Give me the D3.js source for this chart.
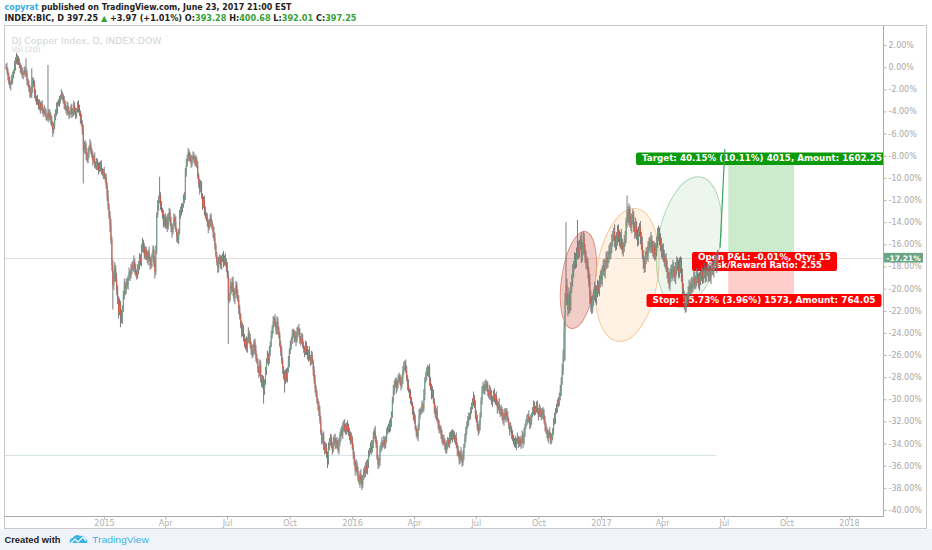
<!DOCTYPE html>
<html><head><meta charset="utf-8">
<script src="https://cdn.jsdelivr.net/npm/d3@7"></script>
<style>
html,body{margin:0;padding:0;background:#fff;}
svg{display:block;}
</style></head>
<body>
<svg id="c" width="932" height="550"></svg>
<script>
// ---- data (percent change vs first visible close) ----
const closes = [
0.0,-0.3,-0.8,-1.4,-1.6,-1.4,-1.1,-0.7,-0.4,0.1,0.6,0.9,0.7,0.4,0.2,-0.1,-0.5,-0.7,-0.5,-0.3,-0.6,
-0.5,-1.2,-1.6,-1.9,-2.3,-2.5,-1.9,-1.2,-1.6,-2.3,-2.8,-3.0,-3.2,-3.5,-3.3,-3.7,-3.4,-3.9,-4.1,-3.9,-4.2,
-4.4,-4.6,-4.1,-4.5,-4.3,-4.8,-5.2,-5.7,-5.2,-4.6,-4.1,-3.7,-3.3,-3.2,-3.0,-2.7,-2.5,-2.6,-3.0,-3.3,-3.7,
-3.9,-3.5,-4.1,-4.3,-4.1,-3.7,-4.2,-3.9,-3.5,-4.1,-4.3,-3.9,-3.4,-3.7,-4.1,-4.6,-5.1,-5.7,-7.5,-7.0,-7.3,
-8.0,-8.4,-7.7,-7.3,-7.0,-7.5,-8.0,-8.4,-8.2,-8.7,-9.0,-8.6,-8.8,-9.3,-9.1,-8.8,-9.3,-9.6,-9.5,-9.8,-10.0,
-10.7,-11.6,-12.5,-13.4,-14.3,-15.6,-17.9,-19.7,-18.8,-18.2,-19.1,-20.1,-21.0,-22.1,-21.5,-22.4,-22.7,-21.8,-20.6,-19.7,-20.0,
-19.5,-19.7,-19.1,-18.5,-18.8,-18.3,-17.9,-18.2,-17.6,-18.2,-18.5,-18.9,-18.3,-17.8,-17.2,-17.6,-16.5,-15.8,-16.3,-17.0,-16.5,
-17.0,-17.4,-16.7,-17.3,-17.9,-17.6,-17.0,-16.5,-17.6,-18.5,-16.5,-13.4,-12.5,-12.0,-11.6,-12.5,-12.9,-13.4,-14.0,-13.6,-14.3,
-13.8,-14.5,-13.4,-13.1,-14.0,-14.5,-14.9,-14.3,-13.6,-14.0,-14.7,-15.3,-15.6,-14.9,-13.4,-12.9,-12.7,-12.5,-12.0,-11.6,-9.5,
-8.8,-8.2,-7.7,-8.0,-8.4,-8.7,-8.2,-8.0,-8.2,-8.6,-8.4,-8.9,-9.8,-10.4,-11.1,-10.7,-11.6,-12.5,-12.0,-12.9,-13.4,
-13.6,-14.0,-14.5,-14.2,-13.6,-14.0,-14.5,-14.9,-15.4,-16.1,-17.0,-17.6,-18.1,-17.6,-17.2,-17.9,-17.4,-17.1,-17.6,-17.2,-17.6,
-18.1,-18.8,-21.0,-20.6,-19.7,-20.1,-19.4,-20.3,-20.9,-20.1,-19.7,-20.6,-21.0,-21.8,-22.4,-23.3,-23.9,-23.6,-24.5,-25.1,-24.7,
-25.4,-24.7,-24.0,-24.5,-25.1,-25.6,-26.0,-25.4,-24.8,-25.6,-26.3,-26.6,-27.2,-27.6,-26.9,-28.1,-28.7,-28.3,-29.2,-28.4,-27.4,
-26.6,-26.0,-26.5,-25.7,-25.1,-24.2,-23.6,-23.0,-22.7,-23.3,-23.8,-23.0,-23.6,-24.2,-25.1,-25.7,-26.5,-27.2,-27.8,-28.3,-27.6,
-28.1,-27.4,-26.6,-25.6,-25.1,-24.7,-24.2,-23.9,-24.5,-24.2,-24.7,-24.0,-23.6,-23.9,-24.5,-24.8,-24.5,-25.1,-25.4,-25.7,-25.1,
-25.6,-26.1,-25.7,-26.3,-26.6,-26.0,-26.6,-27.4,-28.3,-29.0,-29.6,-30.1,-30.5,-31.1,-31.9,-33.0,-33.7,-33.3,-34.1,-34.6,-34.4,
-35.0,-35.5,-34.4,-33.7,-33.5,-34.1,-34.6,-33.9,-33.5,-34.0,-33.7,-34.2,-34.6,-33.9,-33.3,-32.8,-33.2,-32.6,-32.2,-32.8,-32.4,
-32.8,-32.4,-33.0,-33.2,-33.7,-33.5,-34.4,-35.0,-35.7,-36.4,-35.9,-36.5,-37.1,-37.5,-36.8,-37.3,-37.7,-37.1,-36.4,-36.7,-36.0,
-36.4,-35.7,-35.0,-34.6,-34.2,-34.6,-33.9,-33.3,-32.9,-33.5,-34.1,-35.3,-35.9,-35.5,-34.6,-34.2,-33.9,-34.1,-33.7,-34.1,-33.5,
-32.9,-32.8,-32.4,-32.6,-32.0,-31.5,-30.1,-29.2,-28.7,-28.3,-29.0,-28.6,-28.3,-27.9,-28.4,-28.8,-28.1,-27.5,-27.0,-26.8,-27.4,
-28.1,-28.7,-29.2,-29.5,-30.1,-30.4,-31.0,-31.4,-31.9,-32.6,-33.0,-33.3,-32.6,-31.4,-31.0,-31.1,-30.5,-30.8,-29.6,-28.3,-27.9,
-27.4,-27.7,-27.2,-28.3,-29.0,-29.6,-29.3,-30.2,-30.9,-31.4,-31.1,-31.9,-32.3,-32.8,-32.6,-33.2,-33.5,-33.9,-33.7,-34.2,-34.6,
-34.1,-33.7,-34.1,-33.5,-33.2,-33.5,-33.0,-33.3,-33.7,-33.5,-34.1,-34.6,-35.0,-35.5,-34.8,-35.3,-35.7,-35.0,-34.2,-33.5,-32.8,
-32.3,-31.9,-31.7,-31.4,-31.0,-30.7,-30.2,-29.8,-30.5,-31.3,-31.9,-32.5,-32.9,-32.3,-31.4,-30.1,-29.3,-28.8,-29.2,-28.6,-29.0,
-28.7,-29.3,-29.7,-29.2,-29.6,-30.3,-29.9,-29.5,-30.1,-29.7,-30.3,-30.8,-30.4,-30.9,-31.3,-30.9,-31.5,-31.9,-31.3,-31.7,-31.1,
-31.5,-31.9,-32.4,-32.8,-32.6,-33.2,-33.5,-33.9,-33.7,-34.1,-33.8,-33.5,-34.0,-33.7,-34.1,-33.7,-33.3,-33.9,-33.0,-32.4,-32.1,
-31.8,-31.5,-31.9,-32.3,-31.8,-31.4,-31.0,-30.6,-31.2,-30.8,-30.5,-31.0,-31.4,-30.9,-31.2,-31.6,-31.0,-31.4,-31.9,-32.4,-32.8,
-33.1,-33.5,-33.0,-33.3,-33.7,-33.5,-32.8,-32.0,-31.7,-31.1,-30.8,-30.2,-30.4,-29.7,-29.2,-28.4,-27.4,-26.0,-23.8,-21.0,-19.7,
-21.0,-21.9,-20.6,-21.5,-20.0,-19.2,-18.5,-17.9,-17.3,-17.6,-17.0,-16.3,-16.7,-16.1,-15.6,-17.1,-16.3,-15.4,-16.5,-17.2,-17.6,
-17.9,-18.5,-19.4,-20.7,-21.3,-21.8,-21.0,-20.6,-20.1,-20.9,-20.3,-19.7,-20.1,-19.4,-18.9,-19.2,-18.3,-17.9,-18.5,-17.8,-17.2,
-17.7,-17.1,-16.6,-16.9,-16.2,-15.7,-15.3,-14.9,-15.7,-16.1,-15.5,-14.7,-15.3,-15.8,-15.3,-16.0,-16.5,-16.2,-15.8,-15.3,-14.0,
-13.1,-13.7,-12.9,-14.0,-14.4,-13.7,-13.4,-14.5,-14.9,-14.3,-15.2,-15.6,-14.9,-14.5,-15.4,-16.0,-16.9,-17.6,-18.1,-17.2,-16.7,
-17.0,-16.3,-15.8,-16.2,-15.6,-16.3,-16.7,-16.2,-17.0,-16.5,-15.8,-15.3,-14.9,-15.5,-16.1,-16.8,-16.4,-17.1,-17.6,-17.3,-18.0,
-18.5,-19.0,-19.6,-18.9,-18.3,-18.7,-18.0,-18.5,-19.0,-18.3,-17.6,-18.0,-18.5,-18.2,-17.6,-18.8,-20.0,-20.6,-21.2,-21.6,-20.9,
-21.0,-20.3,-19.8,-20.1,-19.6,-19.9,-19.4,-19.0,-19.6,-19.2,-18.7,-19.0,-19.6,-19.2,-18.9,-18.5,-19.0,-18.7,-18.3,-18.9,-18.5,
-18.2,-18.8,-18.4,-19.0,-18.2,-18.0,-18.4,-17.8,-17.6,-17.2,-18.0,-17.21
];
// upper / lower wick beyond the body, in tenths of a percent
const wickUp = [
3,4,2,3,5,2,4,3,2,5,3,4,2,3,4,2,3,5,2,3,4,
13,3,2,4,3,5,18,3,2,4,3,2,5,3,4,2,3,4,2,5,3,
4,2,43,3,5,2,4,3,2,4,3,5,2,3,4,2,5,3,2,4,3,
2,4,3,5,2,3,4,2,5,3,4,2,3,4,3,2,4,3,5,3,4,
5,3,4,2,5,3,2,4,3,5,2,4,3,2,5,3,4,2,3,5,2,
4,3,5,2,4,6,3,5,4,6,3,5,4,3,6,4,5,3,4,6,3,
4,5,3,4,2,5,3,4,6,3,4,2,5,3,4,3,5,4,2,4,3,
3,4,2,5,3,4,2,4,3,5,4,3,5,4,17,3,4,2,5,3,4,
3,5,2,4,3,5,3,2,4,3,5,2,4,3,5,3,4,2,5,3,4,
5,3,4,2,3,5,2,4,3,2,5,3,4,2,3,5,4,2,3,4,3,
3,4,2,5,3,4,2,3,5,4,2,3,4,5,3,2,4,3,5,2,4,
3,5,4,2,6,3,4,5,3,2,4,3,5,4,3,2,4,5,3,4,2,
4,3,5,2,4,3,5,4,2,3,5,4,3,2,5,4,3,5,4,2,3,
3,4,2,5,3,4,3,5,2,4,3,5,4,2,3,4,5,3,2,4,3,
4,3,5,2,4,3,5,3,2,4,3,5,2,4,3,2,5,4,3,2,4,
3,4,2,5,3,4,3,2,4,5,3,4,2,3,5,4,3,2,4,3,5,
4,3,5,2,4,3,2,5,3,4,2,3,5,4,3,2,4,5,3,4,2,
3,5,2,4,3,5,2,4,3,2,5,3,4,2,3,5,4,3,2,4,3,
5,3,4,2,3,5,2,4,3,5,2,4,3,2,4,3,5,2,4,3,2,
3,4,2,5,3,4,3,5,4,2,3,4,5,3,2,4,3,5,4,3,4,
4,3,5,2,4,3,2,4,3,5,2,3,4,5,2,3,4,2,5,3,4,
3,5,2,4,3,4,5,2,3,4,3,5,2,4,3,2,4,3,5,2,3,
4,3,2,5,3,4,3,2,4,3,5,2,4,3,2,5,3,4,2,4,3,
3,4,5,2,3,4,3,5,2,4,3,5,3,4,2,3,5,4,2,3,4,
4,3,2,5,3,4,2,3,5,2,4,3,2,5,3,4,2,3,4,5,3,
3,4,2,3,5,2,4,3,2,4,3,5,2,3,4,2,5,3,4,2,3,
4,2,5,3,4,2,3,5,4,2,3,4,2,5,3,4,2,3,5,4,3,
3,4,2,5,3,4,2,3,5,3,4,2,4,3,5,4,6,5,8,6,57,
6,5,7,4,6,5,7,4,6,5,7,25,6,5,4,7,5,6,4,5,6,
5,6,4,7,5,6,4,5,7,4,6,5,4,6,5,7,4,5,6,4,5,
6,4,5,7,4,6,5,4,7,5,6,4,5,6,4,7,5,4,6,5,4,
15,5,6,4,7,5,6,4,5,7,4,6,5,4,6,5,7,4,5,6,4,
5,6,4,5,7,4,6,5,4,6,5,8,6,4,5,7,4,5,6,4,5,
6,4,5,7,4,5,6,4,5,7,5,4,6,10,5,4,6,5,4,6,5,
4,5,6,4,5,7,4,6,5,4,6,5,4,7,5,6,4,5,6,4,5,
5,4,6,5,4,6,5,4,6,5,4,7
];
const wickDown = [
2,3,4,2,3,5,2,4,3,2,4,3,5,2,3,4,2,3,4,2,3,
3,4,2,3,5,2,3,4,2,5,3,4,2,3,4,5,2,3,4,2,3,
4,3,2,5,3,4,2,6,3,4,2,3,5,2,4,3,2,4,3,5,2,
3,5,2,4,3,2,4,3,5,2,4,3,2,4,3,5,2,4,30,3,5,
4,2,3,5,3,4,2,5,3,4,2,3,5,4,2,3,4,2,5,3,4,
3,5,4,3,6,4,5,22,4,6,3,5,4,6,3,11,4,5,3,4,6,
5,3,4,2,5,3,4,2,3,5,4,3,2,4,5,3,4,2,5,3,4,
4,3,5,2,4,3,5,2,4,6,3,4,2,5,3,4,2,3,5,4,3,
3,4,2,5,3,4,5,2,3,4,2,5,3,4,2,3,5,4,2,3,4,
4,2,3,5,2,4,3,2,5,3,4,2,3,5,4,2,3,4,2,5,3,
3,4,5,2,3,4,2,5,3,4,2,3,5,4,2,3,4,2,5,3,4,
4,3,40,3,5,4,2,4,3,5,4,3,2,5,4,3,5,4,3,2,4,
3,4,2,5,3,4,3,2,5,4,3,2,4,5,3,4,2,3,12,4,3,
4,2,5,3,4,2,3,5,4,2,3,4,5,3,2,4,3,5,4,11,3,
3,4,2,5,3,4,3,2,4,3,5,2,4,3,5,4,2,3,4,5,3,
4,3,5,2,4,3,2,5,3,4,2,3,5,4,3,2,4,3,5,4,3,
3,7,4,2,5,3,4,2,3,5,4,3,2,4,3,5,2,4,3,2,4,
4,2,3,5,4,3,2,4,3,5,2,4,3,2,5,4,5,3,2,4,3,
3,4,5,2,3,4,2,5,3,4,3,2,4,3,5,2,4,3,2,4,3,
4,3,2,4,3,5,2,3,4,2,5,3,4,2,3,4,2,5,3,4,2,
3,5,2,4,3,2,4,5,3,2,4,3,5,2,4,3,2,4,3,5,2,
4,2,3,5,2,4,3,2,4,3,5,2,4,3,2,4,5,3,2,4,3,
3,4,2,3,5,2,4,3,2,4,3,5,2,4,3,2,4,3,5,2,4,
4,3,5,2,4,3,2,4,3,5,2,3,4,2,5,3,4,2,3,4,2,
3,4,2,3,5,2,4,3,2,4,3,5,2,4,3,2,4,3,5,2,4,
4,2,3,5,2,4,3,2,4,3,5,2,4,3,2,4,3,5,2,4,3,
3,4,2,4,3,5,2,4,3,2,4,3,5,2,4,3,2,4,3,5,3,
4,3,5,2,4,3,2,4,3,5,2,4,3,2,4,5,3,4,6,27,5,
5,6,4,7,5,4,6,5,4,6,5,4,6,5,4,6,5,7,4,5,6,
4,6,5,7,8,5,4,6,5,4,6,5,4,6,5,4,6,5,4,6,5,
5,4,6,5,4,6,5,4,6,5,4,6,5,4,6,5,4,6,5,4,6,
5,4,6,5,4,6,5,4,6,5,4,6,5,4,6,5,4,6,5,4,6,
4,6,5,4,6,5,4,6,5,4,6,5,4,6,5,4,6,5,4,6,5,
6,5,4,6,5,4,6,5,4,6,5,4,6,5,4,6,5,4,7,6,5,
4,6,5,4,6,5,4,6,5,4,6,5,4,6,5,4,6,5,4,6,5,
4,6,5,4,6,5,4,6,5,4,6,3
];
const priceTicks = [2,0,-2,-4,-6,-8,-10,-12,-14,-16,-18,-20,-22,-24,-26,-28,-30,-32,-34,-36,-38,-40];
const timeTickDates = ["2015-01-01","2015-04-01","2015-07-01","2015-10-01","2016-01-01","2016-04-01","2016-07-01","2016-10-01","2017-01-01","2017-04-01","2017-07-01","2017-10-01","2018-01-01"];
const timeTickLabels = ["2015","Apr","Jul","Oct","2016","Apr","Jul","Oct","2017","Apr","Jul","Oct","2018"];
const lastPct = -17.21;
const supportPct = -35.03;
const entryPct = -17.21, targetPct = -8.84, stopPct = -20.49;
const positionBars = [757, 826];
const projection = [[748.5, -16.3], [753.5, -7.4]];
const ellipses = [
  {bar: 600, pct: -19.23, halfBars: 17.8, halfPct: 4.43, rot: 8,  fill: "rgba(210,90,70,0.30)", stroke: "rgba(205,80,60,0.55)"},
  {bar: 651, pct: -18.77, halfBars: 32.5, halfPct: 6.05, rot: 8,  fill: "rgba(255,180,100,0.18)", stroke: "rgba(245,170,90,0.6)"},
  {bar: 716, pct: -15.80, halfBars: 32.5, halfPct: 5.96, rot: 10, fill: "rgba(120,190,130,0.14)", stroke: "rgba(120,190,130,0.55)"}
];
const targetText = "Target: 40.15% (10.11%) 4015, Amount: 1602.25";
const pnlText = ["Open P&L: -0.01%, Qty: 15", "Risk/Reward Ratio: 2.55"];
const stopText = "Stop: 15.73% (3.96%) 1573, Amount: 764.05";

// ---- build ----
const svg = d3.select("#c");
const W = 932, H = 550;
const plot = {l: 5, r: 883, t: 26, b: 516};

const x = d3.scaleLinear().domain([0, closes.length - 1]).range([6, 717.7]);
const y = d3.scaleLinear().domain([2, -40]).range([45, 510]);
const t = d3.scaleTime().domain([new Date(2015,0,1), new Date(2018,0,1)]).range([104, 849]);

const bars = closes.map((c, i) => {
  const o = i ? closes[i-1] : c;
  const wu = (wickUp[i] ?? 3) / 10, wd = (wickDown[i] ?? 3) / 10;
  return {i, o, c, h: Math.max(o, c) + wu, l: Math.min(o, c) - wd};
});

// backgrounds
svg.append("rect").attr("width", W).attr("height", H).attr("fill", "#fff");
svg.append("rect").attr("x", 0).attr("y", 529).attr("width", W).attr("height", 21).attr("fill", "#f0f3f9");

// header
const hdr = svg.append("g").attr("font-family", "'DejaVu Sans', Verdana, sans-serif").attr("font-weight", "bold").attr("font-size", 8);
const h1 = hdr.append("text").attr("x", 4.5).attr("y", 9.5).attr("textLength", 287).attr("lengthAdjust", "spacingAndGlyphs");
h1.append("tspan").attr("fill", "#41a9e0").text("copyrat");
h1.append("tspan").attr("fill", "#222").text(" published on TradingView.com, June 23, 2017 21:00 EST");
const h2 = hdr.append("text").attr("x", 4.5).attr("y", 20.5).attr("textLength", 352).attr("lengthAdjust", "spacingAndGlyphs");
const green = "#37a037", dark = "#222";
[["INDEX:BIC, D  397.25 ", dark], ["\u25B2", green], [" +3.97 (+1.01%) ", dark], ["O:", dark], ["393.28", green],
 [" H:", dark], ["400.68", green], [" L:", dark], ["392.01", green], [" C:", dark], ["397.25", green]]
 .forEach(([s, col]) => h2.append("tspan").attr("fill", col).text(s));

// frame
svg.append("rect").attr("x", 4.5).attr("y", 25.5).attr("width", 922).attr("height", 503).attr("fill", "#fff").attr("stroke", "#c9c9c9");

// clip for plot
svg.append("defs").append("clipPath").attr("id", "pc").append("rect")
  .attr("x", plot.l).attr("y", plot.t).attr("width", plot.r - plot.l).attr("height", plot.b - plot.t);
const g = svg.append("g").attr("clip-path", "url(#pc)");

// watermark
g.append("text").attr("x", 11.5).attr("y", 44).attr("font-family", "'DejaVu Sans', Verdana, sans-serif").attr("font-size", 9)
  .attr("fill", "#d4d4d4").attr("textLength", 150).attr("lengthAdjust", "spacingAndGlyphs").text("DJ Copper Index, D, INDEX:DOW");
g.append("text").attr("x", 11.5).attr("y", 51.5).attr("font-family", "'DejaVu Sans', Verdana, sans-serif").attr("font-size", 7.5)
  .attr("fill", "#d4d4d4").text("Vol (20)");

// horizontal lines
g.append("line").attr("x1", plot.l).attr("x2", plot.r).attr("y1", Math.round(y(lastPct)) + 0.5).attr("y2", Math.round(y(lastPct)) + 0.5)
  .attr("stroke", "#e2dcdc").attr("stroke-width", 1);
g.append("line").attr("x1", x(-1)).attr("x2", x(744)).attr("y1", Math.round(y(supportPct)) + 0.5).attr("y2", Math.round(y(supportPct)) + 0.5)
  .attr("stroke", "#d6e3e6").attr("stroke-width", 1);

// ellipses
ellipses.forEach(e => {
  const cx = x(e.bar), cy = y(e.pct);
  g.append("ellipse").attr("cx", cx).attr("cy", cy)
    .attr("rx", x(e.bar + e.halfBars) - cx).attr("ry", y(e.pct - e.halfPct) - cy)
    .attr("transform", `rotate(${e.rot},${cx},${cy})`)
    .attr("fill", e.fill).attr("stroke", e.stroke).attr("stroke-width", 1);
});

// position zones
const px0 = x(positionBars[0]), px1 = x(positionBars[1]);
g.append("rect").attr("x", px0).attr("width", px1 - px0).attr("y", y(targetPct)).attr("height", y(entryPct) - y(targetPct)).attr("fill", "rgba(0,153,0,0.2)");
g.append("rect").attr("x", px0).attr("width", px1 - px0).attr("y", y(entryPct)).attr("height", y(stopPct) - y(entryPct)).attr("fill", "rgba(255,0,0,0.2)");

// labels
const lf = "'DejaVu Sans', Verdana, sans-serif";
function label(cx, yTop, lines, widths, fill, h) {
  const bw = Math.max(...widths) + 12;
  g.append("rect").attr("x", cx - bw/2).attr("y", yTop).attr("width", bw).attr("height", h).attr("rx", 2).attr("fill", fill);
  lines.forEach((s, k) => {
    g.append("text").attr("x", cx).attr("y", yTop + 8.8 + k*7.6 + (lines.length === 1 ? 0 : -0.5)).attr("text-anchor", "middle")
      .attr("font-family", lf).attr("font-weight", "bold").attr("font-size", 8).attr("fill", "#fff")
      .attr("textLength", widths[k]).attr("lengthAdjust", "spacingAndGlyphs").text(s);
  });
}
label(762, y(targetPct) - 12.5, [targetText], [240], "#0a9a0a", 12.5);

// projection line
g.append("line").attr("x1", x(projection[0][0])).attr("y1", y(projection[0][1])).attr("x2", x(projection[1][0])).attr("y2", y(projection[1][1]))
  .attr("stroke", "#3aa860").attr("stroke-width", 1.2);

label(764.5, 252, pnlText, [133, 115], "#ff0000", 19);
label(764, y(stopPct), [stopText], [223], "#ff0000", 13);

// candles
const cg = g.append("g");
cg.selectAll("line.w").data(bars).join("line").attr("class", "w")
  .attr("x1", d => x(d.i)).attr("x2", d => x(d.i)).attr("y1", d => y(d.h)).attr("y2", d => y(d.l))
  .attr("stroke", "#6e6e70").attr("stroke-width", 0.9);
cg.selectAll("rect.b").data(bars).join("rect").attr("class", "b")
  .attr("x", d => x(d.i) - 0.5).attr("width", 1)
  .attr("y", d => y(Math.max(d.o, d.c))).attr("height", d => Math.max(0.6, y(Math.min(d.o, d.c)) - y(Math.max(d.o, d.c))))
  .attr("fill", d => d.c >= d.o ? "#6ba583" : "#d75442").attr("fill-opacity", 0.9);

// separators
svg.append("line").attr("x1", 883.5).attr("x2", 883.5).attr("y1", 25.5).attr("y2", 516.5).attr("stroke", "#a9a9a9");
svg.append("line").attr("x1", 4.5).attr("x2", 883.5).attr("y1", 516.5).attr("y2", 516.5).attr("stroke", "#a9a9a9");

// right price axis
const ya = svg.append("g").attr("transform", "translate(883.5,0)")
  .call(d3.axisRight(y).tickValues(priceTicks).tickFormat(d => d.toFixed(2) + "%").tickSize(3).tickPadding(2));
ya.select(".domain").remove();
ya.selectAll("line").attr("stroke", "#b5b5b5");
ya.selectAll("text").attr("font-family", lf).attr("font-size", 8).attr("fill", "#a8a8a8");

// last price tag
svg.append("rect").attr("x", 884).attr("y", y(lastPct) - 4.8).attr("width", 39).attr("height", 9.6).attr("fill", "#6ba583");
svg.append("text").attr("x", 903.5).attr("y", y(lastPct) + 3).attr("text-anchor", "middle").attr("font-family", lf)
  .attr("font-weight", "bold").attr("font-size", 7.5).attr("fill", "#fff").text(lastPct.toFixed(2) + "%");

// time axis
const xa = svg.append("g").attr("transform", "translate(0,516.5)")
  .call(d3.axisBottom(t).tickValues(timeTickDates.map(s => new Date(s + "T00:00:00"))).tickFormat((d, i) => timeTickLabels[i]).tickSize(3).tickPadding(1));
xa.select(".domain").remove();
xa.selectAll("line").attr("stroke", "#b5b5b5");
xa.selectAll("text").attr("font-family", lf).attr("font-size", 8).attr("fill", "#b0b0b0");

// footer
svg.append("text").attr("x", 4.5).attr("y", 542.5).attr("font-family", "'Liberation Sans', Arial, sans-serif").attr("font-weight", "bold")
  .attr("font-size", 9).attr("fill", "#222").attr("textLength", 56).attr("lengthAdjust", "spacingAndGlyphs").text("Created with");
const logo = svg.append("g").attr("fill", "#3bb3e4");
logo.append("path").attr("d", "M70,543 C69,540 71,538 73,538 C74,535 78,534 80,536 C82,535 85,536 85,539 C87,539 88,541 87,543 Z");
logo.append("path").attr("d", "M71,543 L75,539 L78,542 L83,537 L86,541").attr("fill", "none").attr("stroke", "#fff").attr("stroke-width", 1.2);
svg.append("text").attr("x", 92).attr("y", 542.5).attr("font-family", "'Liberation Sans', Arial, sans-serif")
  .attr("font-size", 9.5).attr("fill", "#3bb3e4").attr("textLength", 57).attr("lengthAdjust", "spacingAndGlyphs").text("TradingView");
</script>
</body></html>
